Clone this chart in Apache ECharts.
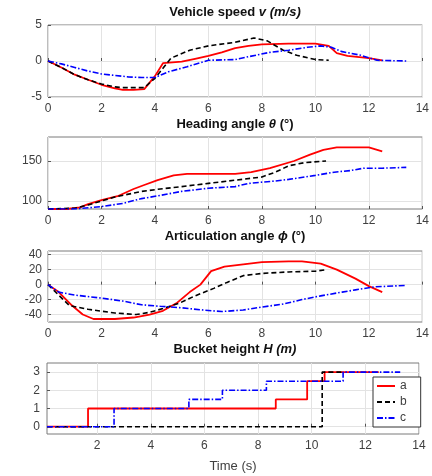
<!DOCTYPE html>
<html><head><meta charset="utf-8">
<script src="https://cdn.jsdelivr.net/npm/echarts@6/dist/echarts.min.js"></script>
<style>html,body{margin:0;padding:0;background:#fff}#c{width:432px;height:476px}</style>
</head><body><div id="c"></div>
<script>
// ---- Data (time s, value) ----
const speedA = [[0,0],[0.5,-0.9],[1,-1.9],[1.5,-2.6],[2,-3.3],[2.5,-3.8],[2.8,-4.0],[3.2,-4.0],[3.6,-3.9],[4,-2.1],[4.3,-0.3],[5,-0.1],[5.5,0.3],[6,0.7],[6.5,1.2],[7,1.8],[7.5,2.1],[8,2.3],[9,2.4],[10,2.4],[10.5,2.1],[10.8,1.1],[11.2,0.7],[12,0.4],[12.5,0.1]];
const speedB = [[0,0],[0.5,-0.9],[1,-1.9],[1.5,-2.6],[2,-3.2],[2.5,-3.6],[2.8,-3.7],[3.6,-3.7],[4,-2.4],[4.3,-1.0],[4.6,0.4],[5.3,1.5],[6,2.1],[7,2.6],[7.7,3.2],[8.2,2.8],[8.8,1.5],[9.3,0.8],[10,0.2],[10.5,0.1]];
const speedC = [[0,0],[0.5,-0.4],[1,-0.9],[1.5,-1.4],[2,-1.8],[2.5,-2.0],[3,-2.2],[3.5,-2.3],[4,-2.3],[4.5,-1.5],[5.2,-0.8],[6,0.1],[7,0.2],[7.5,0.6],[8.3,1.2],[9,1.5],[9.7,1.9],[10.2,2.1],[10.6,1.9],[11,1.3],[11.7,0.8],[12.3,0.1],[13.4,0]];

const headA = [[0,90],[0.7,90],[1.2,92],[1.5,96],[2,101],[2.6,106],[3.2,115],[3.6,120],[4.1,126],[4.7,132],[5.2,134],[6,134],[7,134],[7.6,136],[8.3,141],[9.2,150],[9.8,158],[10.3,164],[10.8,167],[12,167],[12.5,162]];
const headB = [[0,90],[1,91],[1.5,95],[2,100],[2.5,105],[3.5,112],[4.2,115],[5,118],[6,122],[7,126],[8,130],[8.5,136],[9,144],[9.6,148],[10.4,150]];
const headC = [[0,90],[1,90],[2,93],[2.8,97],[3.5,103],[4.2,107],[5,112],[6,116],[7,118],[7.5,122],[8.5,125],[9,127],[10,132],[10.7,136],[11.3,138],[11.8,141],[12.5,141],[13.4,142]];

const artA = [[0,0],[0.4,-10],[0.9,-28],[1.3,-40],[1.7,-46],[2.5,-46],[3.2,-44],[3.8,-40],[4.3,-35],[4.8,-25],[5.3,-10],[5.7,0],[6.1,18],[6.6,24],[7.3,27],[8,30],[9,31],[9.5,31],[10.2,28],[10.8,20],[11.5,8],[12,-2],[12.5,-10]];
const artB = [[0,0],[0.4,-14],[0.8,-28],[1.5,-33],[2.5,-38],[3.3,-40],[3.8,-37],[4.3,-32],[4.9,-25],[5.5,-15],[6.2,-5],[6.7,3],[7.3,12],[8,15],[9,17],[10,18],[10.4,20]];
const artC = [[0,0],[0.4,-10],[1,-14],[2,-18],[2.8,-22],[3.5,-27],[4.2,-29],[5,-31],[5.8,-34],[6.5,-36],[7.3,-34],[8,-30],[8.8,-26],[9.5,-20],[10.2,-15],[11,-10],[11.5,-7],[12.2,-3],[13.4,-1]];

const bucketA = [[0.13,0],[1.66,1],[8.66,1.5],[9.83,2.5],[10.48,3],[12.5,3]];
const bucketB = [[0.13,0],[10.39,3],[11.2,3]];
const bucketC = [[0.13,0],[2.63,1],[5.42,1.5],[6.67,2],[8.31,2.5],[11.17,3],[13.3,3]];

const xTicks = [0,2,4,6,8,10,12,14];
const xTicks4 = [2,4,6,8,10,12,14];
const yTicks1 = [-5,0,5];
const yTicks2 = [100,150];
const yTicks3 = [-40,-20,0,20,40];
const yTicks4 = [0,1,2,3];
const titles = [
  ['Vehicle speed ','v (m/s)'],
  ['Heading angle ','θ',' (°)'],
  ['Articulation angle ','ϕ',' (°)'],
  ['Bucket height ','H (m)']
];

// ---- Layout ----
const FONT = 'Liberation Sans, Arial, sans-serif';
const grids = [
  {left:48, right:9, top:25, height:72},
  {left:48, right:9, top:137, height:72},
  {left:48, right:9, top:251, height:71},
  {left:47, right:13, top:363, height:71}
].map(g => Object.assign(g, {show:true, borderColor:'#7a7a7a', borderWidth:1, backgroundColor:'#fff'}));

function xAx(i, min, ticks){
  return {type:'value', gridIndex:i, min:min, max:14,
    axisLine:{show:false},
    axisTick:{show:true, inside:true, length:3, customValues:ticks, lineStyle:{color:'#555'}},
    axisLabel:{customValues:ticks, color:'#404040', fontSize:12, fontFamily:FONT, margin:6},
    splitLine:{show:true, lineStyle:{color:'#e3e3e3', width:1}}};
}
function yAx(i, min, max, ticks, margin){
  return {type:'value', gridIndex:i, min:min, max:max,
    axisLine:{show:false},
    axisTick:{show:true, inside:true, length:3, customValues:ticks, lineStyle:{color:'#555'}},
    axisLabel:{customValues:ticks, color:'#404040', fontSize:12, fontFamily:FONT, margin:margin},
    splitLine:{show:true, lineStyle:{color:'#e3e3e3', width:1}}};
}
const xAxes = [xAx(0,0,xTicks), xAx(1,0,xTicks), xAx(2,0,xTicks), xAx(3,0.13,xTicks4)];
xAxes[3].name = 'Time (s)';
xAxes[3].nameLocation = 'middle';
xAxes[3].nameGap = 26;
xAxes[3].nameTextStyle = {color:'#404040', fontSize:13, fontFamily:FONT};
const yAxes = [yAx(0,-5,5,yTicks1,6), yAx(1,90,180,yTicks2,6), yAx(2,-50,45,yTicks3,6), yAx(3,-0.4,3.5,yTicks4,7)];

const styles = {
  a:{color:'#ff0000', type:'solid'},
  b:{color:'#000000', type:[5,3]},
  c:{color:'#0000ff', type:[6,2,1.5,2]}
};
function ser(name, data, idx, step){
  const s = {name:name, type:'line', xAxisIndex:idx, yAxisIndex:idx, data:data,
    showSymbol:false, symbol:'none', smooth:false, animation:false,
    lineStyle:{color:styles[name].color, type:styles[name].type, width:name==='a'?1.8:1.6},
    itemStyle:{color:styles[name].color}};
  if (step) s.step = 'end';
  return s;
}
const series = [
  ser('a',speedA,0), ser('b',speedB,0), ser('c',speedC,0),
  ser('a',headA,1), ser('b',headB,1), ser('c',headC,1),
  ser('a',artA,2), ser('b',artB,2), ser('c',artC,2),
  ser('a',bucketA,3,true), ser('b',bucketB,3,true), ser('c',bucketC,3,true)
];

const titleTops = [6, 118, 230, 343];
const title = titles.map((t,i) => {
  let text;
  if (t.length === 2) text = '{b|'+t[0]+'}{bi|'+t[1]+'}';
  else text = '{b|'+t[0]+'}{bi|'+t[1]+'}{b|'+t[2]+'}';
  return {text:text, left:235, top:titleTops[i], textAlign:'center', padding:0,
    textStyle:{fontFamily:FONT, rich:{
      b:{fontWeight:'bold', fontSize:13, color:'#111', fontFamily:FONT},
      bi:{fontWeight:'bold', fontStyle:'italic', fontSize:13, color:'#111', fontFamily:FONT}
    }}};
});

const chart = echarts.init(document.getElementById('c'), null, {renderer:'canvas'});
chart.setOption({
  animation:false,
  backgroundColor:'#fff',
  title:title,
  grid:grids,
  xAxis:xAxes,
  yAxis:yAxes,
  legend:{data:['a','b','c'], orient:'vertical', left:373, top:377,
    itemWidth:18, itemHeight:8, itemGap:4, padding:[3,14,3,3],
    itemStyle:{opacity:0},
    backgroundColor:'#fff', borderColor:'#333', borderWidth:1, borderRadius:0,
    textStyle:{color:'#404040', fontSize:12, fontFamily:FONT},
    selectedMode:false},
  series:series
});
</script></body></html>
